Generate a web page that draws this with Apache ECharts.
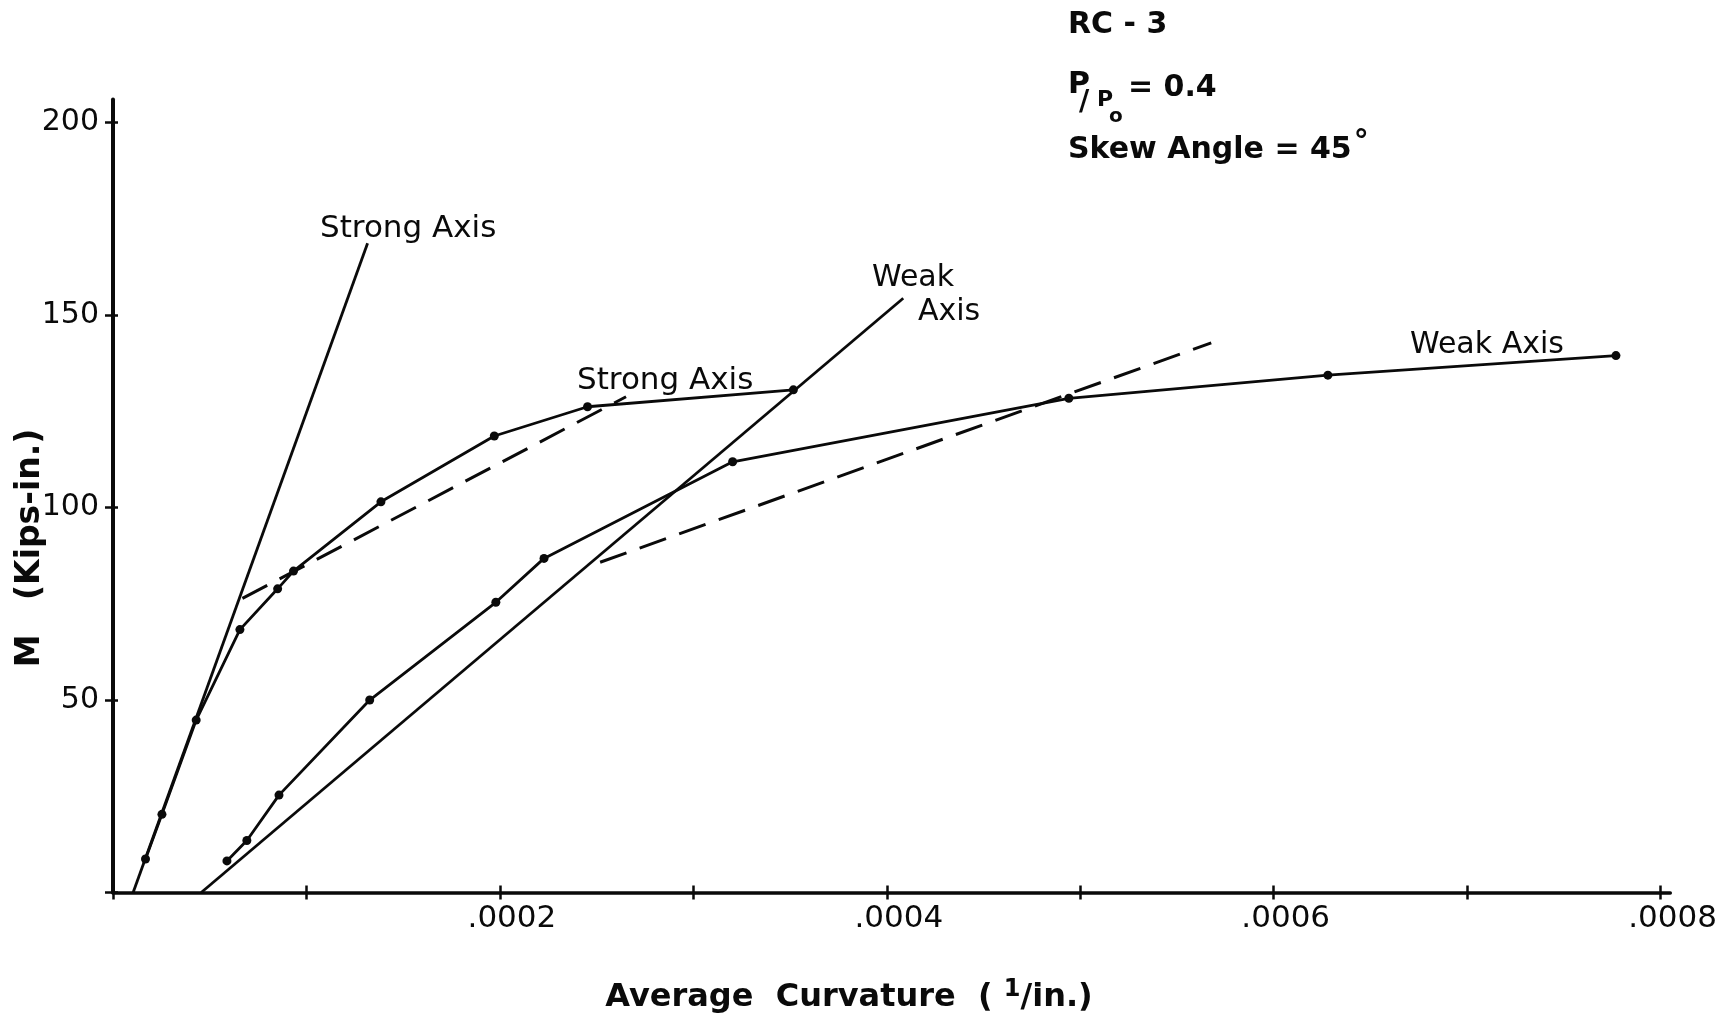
<!DOCTYPE html>
<html>
<head>
<meta charset="utf-8">
<script src="https://cdn.jsdelivr.net/npm/echarts@6/dist/echarts.min.js"></script>
<style>
html,body{margin:0;padding:0;background:#fff;}
#chart{width:1720px;height:1020px;}
</style>
</head>
<body>
<div id="chart"></div>
<script>
// ---------------- data (curvature in 1/in., moment in kips-in.) ----------------
const strongDataX = [0.0000168, 0.0000253, 0.0000430, 0.0000656, 0.0000851, 0.0000933, 0.0001385, 0.0001971, 0.0002453, 0.0003517];
const strongDataM = [8.7, 20.3, 44.8, 68.3, 78.9, 83.5, 101.5, 118.6, 126.2, 130.6];

const weakDataX = [0.0000589, 0.0000692, 0.0000858, 0.0001327, 0.0001979, 0.0002228, 0.0003203, 0.0004941, 0.0006280, 0.0007769];
const weakDataM = [8.2, 13.5, 25.3, 50.0, 75.4, 86.8, 111.9, 128.4, 134.4, 139.5];

// elastic (initial stiffness) lines
const strongElasticX = [0.0000104, 0.0001316];
const strongElasticM = [0, 168.7];
const weakElasticX = [0.0000456, 0.0004085];
const weakElasticM = [0, 154.4];

// dashed bilinear approximations
const strongDashX = [0.0000669, 0.0002652];
const strongDashM = [76.4, 128.8];
const weakDashX = [0.0002518, 0.0005677];
const weakDashM = [85.8, 142.8];

// ticks
const xTickValues = [0, 0.0001, 0.0002, 0.0003, 0.0004, 0.0005, 0.0006, 0.0007, 0.0008];
const xLabelValues = [0.0002, 0.0004, 0.0006, 0.0008];
const xLabelTexts = ['.0002', '.0004', '.0006', '.0008'];
const yTickValues = [0, 50, 100, 150, 200];
const yLabelValues = [50, 100, 150, 200];
const yLabelTexts = ['50', '100', '150', '200'];

// ---------------- build ----------------
const FONT = 'DejaVu Sans';
const INK = '#0a0a0a';
const pairs = (xs, ys) => xs.map((x, i) => [x, ys[i]]);
const lookup = (vals, texts) => v => {
  const i = vals.findIndex(t => Math.abs(t - v) < 1e-9);
  return i >= 0 ? texts[i] : '';
};

const chart = echarts.init(document.getElementById('chart'), null, {renderer: 'canvas'});

const X_MIN = 0, X_MAX = 0.000805, Y_MIN = 0, Y_MAX = 206;

function txt(x, y, text, size, weight, extra) {
  return {
    type: 'text', x: x, y: y, z: 100,
    style: Object.assign({
      text: text, fill: INK,
      font: (weight || 'normal') + ' ' + size + 'px "' + FONT + '"',
      textAlign: 'left', textVerticalAlign: 'middle'
    }, extra || {})
  };
}

const option = {
  animation: false,
  backgroundColor: '#fff',
  textStyle: {fontFamily: FONT, color: INK},
  grid: {left: 113, right: 39.7, top: 99.6, bottom: 127.5, containLabel: false},
  xAxis: [
    {
      type: 'value', min: X_MIN, max: X_MAX, position: 'bottom',
      axisLine: {show: true, onZero: false, lineStyle: {color: INK, width: 3.5}},
      axisTick: {show: true, inside: false, length: 7, customValues: xTickValues, lineStyle: {color: INK, width: 2.5}},
      axisLabel: {show: true, customValues: xLabelValues, formatter: lookup(xLabelValues, xLabelTexts),
        fontFamily: FONT, fontSize: 31, color: INK, margin: 11, padding: [0, 0, 0, 24]},
      splitLine: {show: false}
    },
    {
      type: 'value', min: X_MIN, max: X_MAX, position: 'bottom',
      axisLine: {show: false, onZero: false},
      axisTick: {show: true, inside: true, length: 7, customValues: xTickValues, lineStyle: {color: INK, width: 2.5}},
      axisLabel: {show: false},
      splitLine: {show: false}
    }
  ],
  yAxis: [
    {
      type: 'value', min: Y_MIN, max: Y_MAX, position: 'left',
      axisLine: {show: true, onZero: false, lineStyle: {color: INK, width: 4}},
      axisTick: {show: true, inside: false, length: 8, customValues: yTickValues, lineStyle: {color: INK, width: 2.5}},
      axisLabel: {show: true, customValues: yLabelValues, formatter: lookup(yLabelValues, yLabelTexts),
        fontFamily: FONT, fontSize: 30, color: INK, margin: 14},
      splitLine: {show: false}
    },
    {
      type: 'value', min: Y_MIN, max: Y_MAX, position: 'left',
      axisLine: {show: false, onZero: false},
      axisTick: {show: true, inside: true, length: 5, customValues: yTickValues, lineStyle: {color: INK, width: 2.5}},
      axisLabel: {show: false},
      splitLine: {show: false}
    }
  ],
  series: [
    {name: 'Strong elastic', type: 'line', data: pairs(strongElasticX, strongElasticM), showSymbol: false, symbol: 'none',
      lineStyle: {color: INK, width: 2.8}},
    {name: 'Weak elastic', type: 'line', data: pairs(weakElasticX, weakElasticM), showSymbol: false, symbol: 'none',
      lineStyle: {color: INK, width: 2.8}},
    {name: 'Strong dashed', type: 'line', data: pairs(strongDashX, strongDashM), symbol: 'none',
      lineStyle: {color: INK, width: 3, type: [28, 14]}},
    {name: 'Weak dashed', type: 'line', data: pairs(weakDashX, weakDashM), symbol: 'none',
      lineStyle: {color: INK, width: 3, type: [28, 14]}},
    {name: 'Strong Axis', type: 'line', data: pairs(strongDataX, strongDataM), symbol: 'circle', symbolSize: 9,
      itemStyle: {color: INK}, lineStyle: {color: INK, width: 2.8}},
    {name: 'Weak Axis', type: 'line', data: pairs(weakDataX, weakDataM), symbol: 'circle', symbolSize: 9,
      itemStyle: {color: INK}, lineStyle: {color: INK, width: 2.8}}
  ],
  graphic: {
    elements: [
      // curve annotations
      txt(320, 229, 'Strong Axis', 31, 'normal'),
      txt(577, 381, 'Strong Axis', 31, 'normal'),
      txt(872, 278, 'Weak', 30, 'normal'),
      txt(918, 312, 'Axis', 30, 'normal'),
      txt(1410, 345, 'Weak Axis', 30, 'normal'),
      // specimen block
      txt(1068, 25, 'RC - 3', 30, 'bold'),
      txt(1068, 85, 'P', 30, 'bold'),
      txt(1079, 103, '/', 28, 'bold'),
      txt(1097, 100, 'P', 22, 'bold'),
      txt(1109, 117, 'o', 20, 'bold'),
      txt(1128, 88, '= 0.4', 30, 'bold'),
      {
        type: 'text', x: 1068, y: 150, z: 100,
        style: {
          text: '{a|Skew Angle = 45}{d|°}', fill: INK, textAlign: 'left', textVerticalAlign: 'middle',
          rich: {
            a: {fontFamily: FONT, fontWeight: 'bold', fontSize: 30, fill: INK, color: INK},
            d: {fontFamily: FONT, fontWeight: 'bold', fontSize: 30, fill: INK, color: INK, padding: [0, 0, 14, 2]}
          }
        }
      },
      // axis titles
      {
        type: 'text', x: 849, y: 998, z: 100,
        style: {
          text: '{b|Average  Curvature  ( }{s|1}{b|/in.)}', fill: INK, textAlign: 'center', textVerticalAlign: 'middle',
          rich: {
            b: {fontFamily: FONT, fontWeight: 'bold', fontSize: 32, fill: INK, color: INK},
            s: {fontFamily: FONT, fontWeight: 'bold', fontSize: 24, fill: INK, color: INK, padding: [0, 0, 16, 0]}
          }
        }
      },
      {
        type: 'text', x: 30, y: 548, z: 100, rotation: Math.PI / 2,
        style: {
          text: 'M   (Kips-in.)', fill: INK,
          font: 'bold 33px "' + FONT + '"', textAlign: 'center', textVerticalAlign: 'middle'
        }
      }
    ]
  }
};

chart.setOption(option);
</script>
</body>
</html>
